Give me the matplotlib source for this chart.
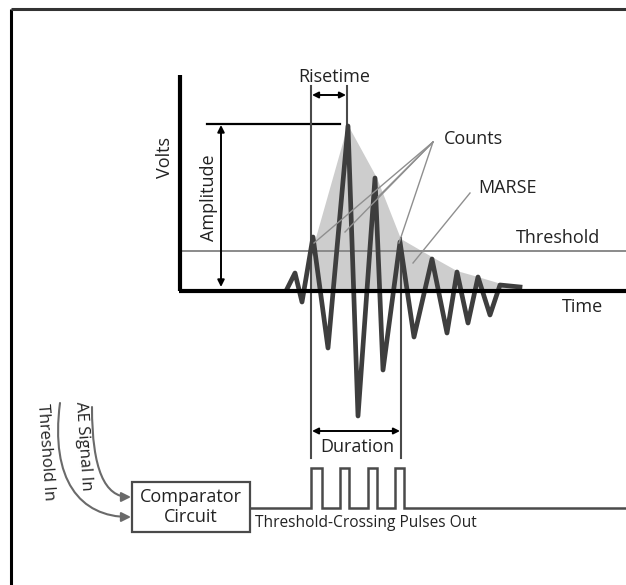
import matplotlib
matplotlib.use("Agg")
import matplotlib.pyplot as plt
from matplotlib.patches import Polygon, Rectangle, FancyArrowPatch
from matplotlib.path import Path

plt.rcParams['font.family'] = ['Open Sans', 'DejaVu Sans']

# ---- data (diagram coordinates, pixel-like units, y grows downward) ----
wave_t = [287, 295, 302, 313, 328, 348, 358, 375, 383, 400, 414, 432, 447, 457, 468, 478, 490, 500, 520]
wave_v = [289, 273, 302, 237, 348, 126, 416, 178, 370, 242, 337, 259, 333, 272, 323, 277, 315, 285, 287]

marse_t = [311, 311, 316, 348, 377, 401, 432, 457, 478, 498, 520, 520]
marse_v = [291, 252, 238, 125, 178, 239, 257, 271, 277, 283, 287, 291]

pulse_starts = [311, 340, 368, 395]
pulse_ends = [322, 349, 377, 404]

counts_targets_t = [314, 345, 378, 399]
counts_targets_v = [243, 232, 197, 243]

labels = {
    "volts": "Volts", "amplitude": "Amplitude", "risetime": "Risetime",
    "counts": "Counts", "marse": "MARSE", "threshold": "Threshold",
    "time": "Time", "duration": "Duration", "ae": "AE Signal In",
    "thr_in": "Threshold In", "comp": "Comparator\nCircuit",
    "pulses": "Threshold-Crossing Pulses Out",
}

W, H = 626, 585
fig = plt.figure(figsize=(W / 100, H / 100), dpi=100)
ax = fig.add_axes([0, 0, 1, 1])
ax.set_xlim(0, W)
ax.set_ylim(H, 0)
ax.axis('off')

TXT = '#222222'
WAVE = '#3e3e3e'
MEAS = '#4a4a4a'
FS = 13

# outer frame
ax.plot([11, 11], [9, H], color='black', lw=2.2, solid_capstyle='butt')
ax.plot([11, W], [9, 9], color='#333333', lw=2.2, solid_capstyle='butt')

# MARSE shading
ax.add_patch(Polygon(list(zip(marse_t, marse_v)), closed=True, facecolor='#cdcdcd', edgecolor='none', zorder=1))

# threshold line
ax.plot([180, W], [251, 251], color='#8a8a8a', lw=1.4, zorder=2)

# waveform
ax.plot(wave_t, wave_v, color=WAVE, lw=3.4, solid_joinstyle='round', zorder=4)

# axes
ax.plot([180, 180], [75, 291], color='black', lw=3, zorder=5, solid_capstyle='butt')
ax.plot([179, W], [291, 291], color='black', lw=3, zorder=5, solid_capstyle='butt')

# text labels
ax.text(165, 157, labels["volts"], rotation=90, ha='center', va='center', fontsize=FS, color=TXT)
ax.text(209, 198, labels["amplitude"], rotation=90, ha='center', va='center', fontsize=FS, color=TXT)
ax.text(334, 77, labels["risetime"], ha='center', va='center', fontsize=FS, color=TXT)
ax.text(473, 139, labels["counts"], ha='center', va='center', fontsize=FS, color=TXT)
ax.text(507, 188, labels["marse"], ha='center', va='center', fontsize=FS, color=TXT)
ax.text(558, 238, labels["threshold"], ha='center', va='center', fontsize=FS, color=TXT)
ax.text(582, 307, labels["time"], ha='center', va='center', fontsize=FS, color=TXT)

# amplitude
ax.plot([207, 340], [124, 124], color='black', lw=1.6, zorder=3)
ax.annotate('', xy=(221, 125), xytext=(221, 287),
            arrowprops=dict(arrowstyle='<|-|>', color='black', lw=1.4, mutation_scale=10, shrinkA=0, shrinkB=0))

# risetime / duration verticals
ax.plot([311, 311], [86, 458], color=MEAS, lw=1.5, zorder=3)
ax.plot([347, 347], [86, 128], color=MEAS, lw=1.5, zorder=3)
ax.plot([401, 401], [238, 458], color=MEAS, lw=1.5, zorder=3)
ax.annotate('', xy=(312, 95), xytext=(346, 95),
            arrowprops=dict(arrowstyle='<|-|>', color='black', lw=1.4, mutation_scale=9, shrinkA=0, shrinkB=0))
ax.annotate('', xy=(312, 431), xytext=(400, 431),
            arrowprops=dict(arrowstyle='<|-|>', color='black', lw=1.4, mutation_scale=9, shrinkA=0, shrinkB=0))
ax.text(357, 447, labels["duration"], ha='center', va='center', fontsize=FS, color=TXT)

# counts leaders
for tx, ty in zip(counts_targets_t, counts_targets_v):
    ax.plot([433, tx], [142, ty], color='#8f8f8f', lw=1.0, zorder=6)
# MARSE leader
ax.plot([470, 413], [193, 263], color='#8f8f8f', lw=1.0, zorder=6)

# pulses
px = [250, pulse_starts[0]]
py = [508, 508]
for s, e in zip(pulse_starts, pulse_ends):
    px += [s, s, e, e]
    py += [508, 468, 468, 508]
px.append(W)
py.append(508)
ax.plot(px, py, color=MEAS, lw=1.8, solid_joinstyle='miter', zorder=3)

# comparator box
ax.add_patch(Rectangle((132, 482), 118, 50, facecolor='white', edgecolor=MEAS, lw=1.6, zorder=3))
ax.text(191, 507, labels["comp"], ha='center', va='center', fontsize=FS, color=TXT, linespacing=1.15, zorder=4)
ax.text(255, 523, labels["pulses"], ha='left', va='center', fontsize=11.2, color=TXT)

# input arrows
ae_path = Path([(92, 407), (92, 470), (105, 497), (131, 497)],
               [Path.MOVETO, Path.CURVE4, Path.CURVE4, Path.CURVE4])
ax.add_patch(FancyArrowPatch(path=ae_path, arrowstyle='-|>', color='#6a6a6a', lw=1.5, mutation_scale=14))
th_path = Path([(60, 403), (50, 480), (80, 517), (131, 517)],
               [Path.MOVETO, Path.CURVE4, Path.CURVE4, Path.CURVE4])
ax.add_patch(FancyArrowPatch(path=th_path, arrowstyle='-|>', color='#6a6a6a', lw=1.5, mutation_scale=14))
ax.text(83, 446, labels["ae"], rotation=-86, ha='center', va='center', fontsize=FS - 1, color=TXT)
ax.text(45, 452, labels["thr_in"], rotation=-86, ha='center', va='center', fontsize=FS - 1, color=TXT)

fig.savefig('out.png', dpi=100)
